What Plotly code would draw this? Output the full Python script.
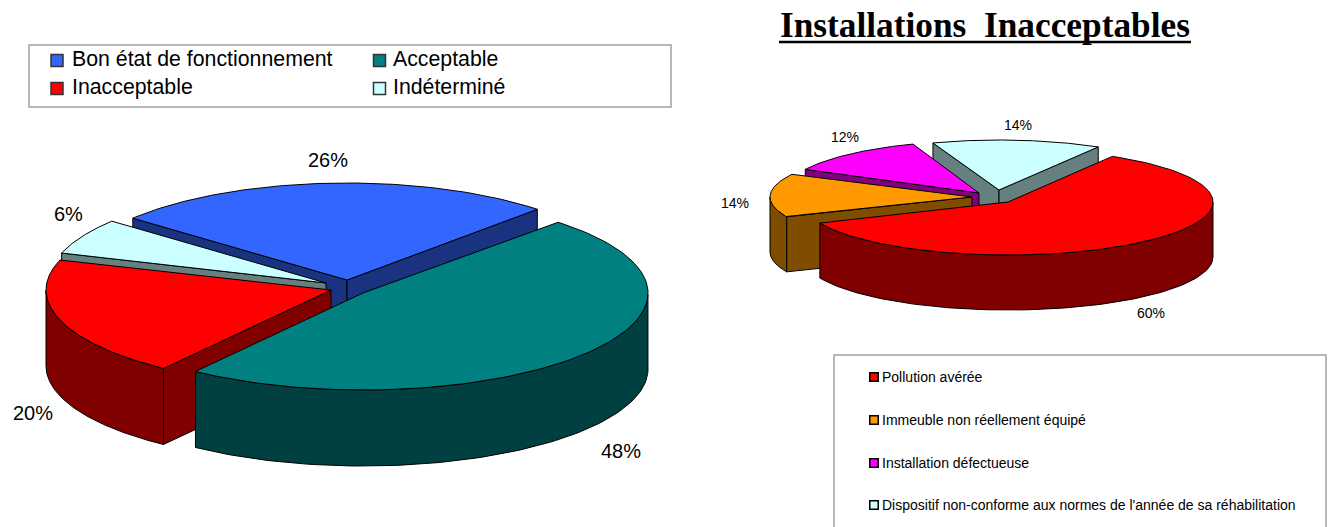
import numpy as np
import plotly.graph_objects as go

# ---- data -------------------------------------------------------------
left_categories = ["Bon état de fonctionnement", "Acceptable", "Inacceptable", "Indéterminé"]
left_values = [26, 48, 20, 6]
right_categories = ["Pollution avérée", "Immeuble non réellement équipé", "Installation défectueuse",
                    "Dispositif non-conforme aux normes de l'année de sa réhabilitation"]
right_values = [60, 14, 12, 14]
title_text = "Installations\u00a0\u00a0Inacceptables"

# ---- styles / layout ---------------------------------------------------
BLUE, TEAL, RED, PALE, ORANGE, MAGENTA = "#3366FF", "#008080", "#FF0000", "#CCFFFF", "#FF9900", "#FF00FF"
left_colors = [BLUE, TEAL, RED, PALE]
left_dark = ["#1A3380", "#004040", "#800000", "#668080"]
right_colors = [RED, ORANGE, MAGENTA, PALE]
right_dark = ["#800000", "#804D00", "#800080", "#668080"]

left_pie = dict(start=140.4, a=[278, 285, 285, 278], b=[97, 97, 97, 97], depth=76,
                apex=[(347, 280), (363, 293), (331, 290), (326, 283)],
                draw_order=[0, 3, 2, 1],
                labels=[(328, 160), (621, 451), (33, 413), (68, 214)], size=20)
right_pie = dict(start=59.4, a=[205, 202, 195, 195], b=[53, 50, 52, 50], depth=55,
                 apex=[(1008, 202), (972, 197), (979, 193), (999, 190)],
                 draw_order=[3, 2, 1, 0],
                 labels=[(1151, 313), (735, 203), (845, 137), (1018, 125)], size=14)

fig = go.Figure()


def poly(xs, ys, fill, name):
    fig.add_trace(go.Scatter(x=list(xs), y=list(ys), mode="lines", fill="toself", fillcolor=fill,
                             line=dict(color="#000000", width=1), hoverinfo="skip",
                             showlegend=False, name=name))


def draw_pie(values, categories, colors, dark, g):
    """Slices run clockwise from g['start'], their sweep being each value's share."""
    sweeps = np.array(values, dtype=float) / sum(values) * 360
    ends = g["start"] - np.cumsum(sweeps)
    starts = ends + sweeps
    d = g["depth"]
    for i in g["draw_order"]:
        a, b = g["a"][i], g["b"][i]
        t1, t2 = starts[i], ends[i]
        ax, ay = g["apex"][i]
        th = np.radians(np.linspace(t1, t2, 120))
        rx, ry = ax + a * np.cos(th), ay - b * np.sin(th)
        # radial faces, only those turned towards the viewer
        for t, visible in ((t1, np.cos(np.radians(t1)) < 0), (t2, np.cos(np.radians(t2)) > 0)):
            if visible:
                cx, cy = ax + a * np.cos(np.radians(t)), ay - b * np.sin(np.radians(t))
                poly([ax, cx, cx, ax, ax], [ay, cy, cy + d, ay + d, ay], dark[i], categories[i])
        # outer wall: lower half of the rim
        front = np.sin(th) <= 0
        if front.any():
            fx, fy = rx[front], ry[front]
            poly(np.r_[fx, fx[::-1], fx[0]], np.r_[fy, fy[::-1] + d, fy[0]], dark[i], categories[i])
        # top face
        poly(np.r_[ax, rx, ax], np.r_[ay, ry, ay], colors[i], categories[i])
    for (x, y), v in zip(g["labels"], values):
        fig.add_annotation(x=x, y=y, text=f"{v}%", showarrow=False,
                           font=dict(family="Liberation Sans", size=g["size"], color="#000000"))


draw_pie(left_values, left_categories, left_colors, left_dark, left_pie)
draw_pie(right_values, right_categories, right_colors, right_dark, right_pie)

# ---- legends -----------------------------------------------------------
fig.add_shape(type="rect", x0=29, y0=45, x1=671, y1=107, line=dict(color="#A0A0A0", width=1.5))
fig.add_shape(type="rect", x0=834, y0=355, x1=1326, y1=540, line=dict(color="#A0A0A0", width=1.5))

left_marker_x = [57, 379.5, 57, 379.5]
left_marker_y = [60.5, 60.5, 88.5, 88.5]
left_text_x = [70, 391, 70, 391]
left_text_y = [59, 59, 87, 87]
for mx, my, tx, ty, c, t in zip(left_marker_x, left_marker_y, left_text_x, left_text_y,
                                left_colors, left_categories):
    fig.add_trace(go.Scatter(x=[mx], y=[my], mode="markers", showlegend=False, hoverinfo="skip",
                             marker=dict(symbol="square", size=12, color=c,
                                         line=dict(color="#333333", width=1.5))))
    fig.add_annotation(x=tx, y=ty, text=t, showarrow=False, xanchor="left", yanchor="middle",
                       font=dict(family="Liberation Sans", size=21.3, color="#000000"))

right_y = [377, 420, 463, 505]
for y, c, t in zip(right_y, right_colors, right_categories):
    fig.add_trace(go.Scatter(x=[874], y=[y], mode="markers", showlegend=False, hoverinfo="skip",
                             marker=dict(symbol="square", size=8.5, color=c,
                                         line=dict(color="#000000", width=1.5))))
    fig.add_annotation(x=880, y=y, text=t, showarrow=False, xanchor="left", yanchor="middle",
                       font=dict(family="Liberation Sans", size=14, color="#000000"))

# ---- title -------------------------------------------------------------
fig.add_annotation(x=985, y=25, text=f"<b>{title_text}</b>", showarrow=False,
                   font=dict(family="Liberation Serif", size=35.3, color="#000000"))
fig.add_shape(type="line", x0=779, x1=1191, y0=42, y1=42, line=dict(color="#000000", width=2.5))

fig.update_layout(width=1328, height=527, margin=dict(l=0, r=0, t=0, b=0),
                  paper_bgcolor="#FFFFFF", plot_bgcolor="#FFFFFF", showlegend=False,
                  xaxis=dict(range=[0, 1328], visible=False, fixedrange=True),
                  yaxis=dict(range=[527, 0], visible=False, fixedrange=True))

fig.write_html("out.html", config={"displayModeBar": False},
               post_script="document.body.style.margin='0';")
